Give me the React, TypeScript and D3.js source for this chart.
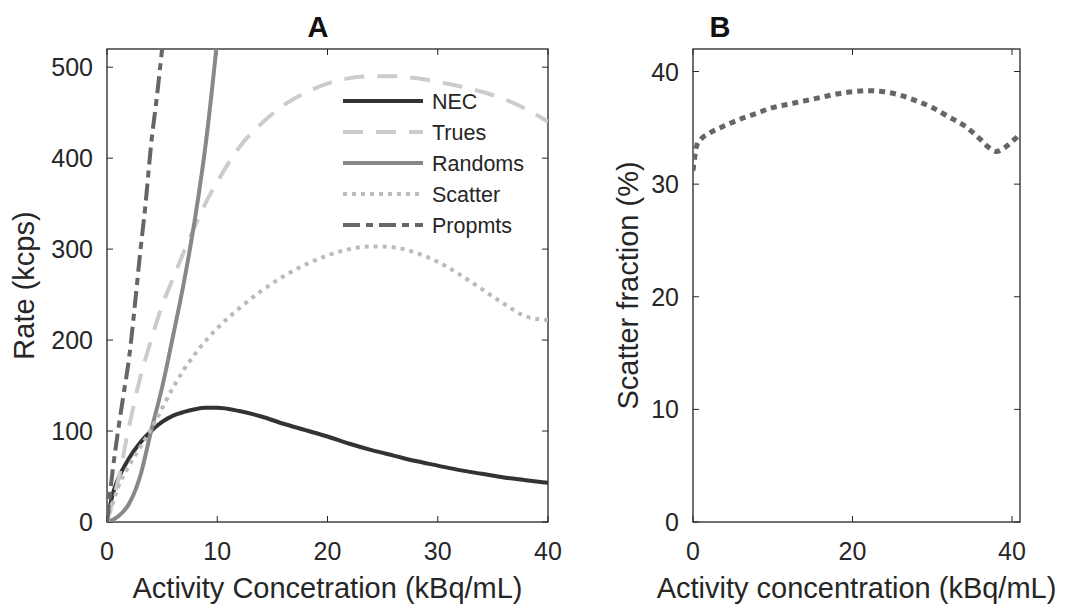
import React, { useRef, useEffect } from 'react';
import * as d3 from 'd3';

// Panel A: count rates (kcps) vs activity concentration (kBq/mL)
const concA = [0, 0.5, 1, 2, 3, 4, 5, 6, 7, 8, 9, 10, 12, 14, 16, 18, 20, 22, 24, 26, 28, 30, 32, 34, 36, 38, 40];
const necRate = [0, 30, 47, 70, 87, 100, 110, 117, 121, 124, 125.5, 125.5, 122, 116, 108, 101, 94, 86, 79, 73, 67, 62, 57, 53, 49, 46, 43];
const truesRate = [0, 22, 45, 105, 158, 200, 238, 268, 298, 326, 352, 374, 412, 438, 458, 472, 482, 488, 490, 490, 488, 484, 479, 473, 465, 454, 440];
const scatterRate = [0, 20, 38, 62, 82, 102, 125, 148, 168, 185, 200, 213, 235, 254, 270, 283, 293, 300, 303, 302, 296, 286, 272, 256, 240, 226, 222];
const concRandoms = [0, 1, 2, 3, 4, 5, 6, 7, 8, 9, 10];
const randomsRate = [0, 6, 20, 50, 100, 148, 205, 265, 335, 420, 530];
const concPrompts = [0, 0.5, 1, 1.5, 2, 2.5, 3, 3.5, 4, 4.5, 5, 5.5];
const promptsRate = [0, 55, 100, 140, 180, 235, 295, 350, 415, 465, 520, 575];

const seriesNames = ['NEC', 'Trues', 'Randoms', 'Scatter', 'Propmts'];
const ticksAX = [0, 10, 20, 30, 40];
const ticksAY = [0, 100, 200, 300, 400, 500];

// Panel B: scatter fraction (%)
const concB = [0, 0.5, 1, 2, 4, 6, 8, 10, 12, 14, 16, 18, 20, 22, 24, 26, 28, 30, 32, 34, 36, 37, 38, 39, 40, 41];
const scatterFraction = [31.2, 33.5, 34.0, 34.5, 35.2, 35.8, 36.3, 36.8, 37.1, 37.4, 37.7, 38.0, 38.2, 38.3, 38.2, 37.9, 37.4, 36.8, 36.0, 35.2, 34.0, 33.3, 32.9, 33.2, 33.8, 34.4];
const ticksBX = [0, 20, 40];
const ticksBY = [0, 10, 20, 30, 40];

const FONT = "'Liberation Sans', Arial, Helvetica, sans-serif";
const AXIS = '#262626';

const App = () => {
    const svgRef = useRef(null);

    useEffect(() => {
        const svg = d3.select(svgRef.current);
        svg.selectAll('*').remove();

        // draws box, inward ticks on all sides, tick labels
        const drawAxes = (x, y, xt, yt, id) => {
            const [x0, x1] = x.range();
            const [y0, y1] = y.range();
            const g = svg.append('g');
            g.append('rect')
                .attr('x', x0).attr('y', y1)
                .attr('width', x1 - x0).attr('height', y0 - y1)
                .attr('fill', 'none').attr('stroke', AXIS).attr('stroke-width', 1.3);
            const tl = 6;
            xt.forEach(t => {
                g.append('line').attr('x1', x(t)).attr('x2', x(t)).attr('y1', y0).attr('y2', y0 - tl).attr('stroke', AXIS);
                g.append('line').attr('x1', x(t)).attr('x2', x(t)).attr('y1', y1).attr('y2', y1 + tl).attr('stroke', AXIS);
                g.append('text').attr('x', x(t)).attr('y', y0 + 38)
                    .attr('text-anchor', 'middle').attr('font-size', 25).attr('fill', AXIS)
                    .attr('font-family', FONT).text(t);
            });
            yt.forEach(t => {
                g.append('line').attr('x1', x0).attr('x2', x0 + tl).attr('y1', y(t)).attr('y2', y(t)).attr('stroke', AXIS);
                g.append('line').attr('x1', x1).attr('x2', x1 - tl).attr('y1', y(t)).attr('y2', y(t)).attr('stroke', AXIS);
                g.append('text').attr('x', x0 - 14).attr('y', y(t)).attr('dy', '0.36em')
                    .attr('text-anchor', 'end').attr('font-size', 25).attr('fill', AXIS)
                    .attr('font-family', FONT).text(t);
            });
            svg.append('clipPath').attr('id', id)
                .append('rect').attr('x', x0).attr('y', y1).attr('width', x1 - x0).attr('height', y0 - y1);
        };

        const label = (txt, x, y, rotate, size = 29, weight = 'normal') => {
            svg.append('text')
                .attr('transform', `translate(${x},${y})${rotate ? ' rotate(-90)' : ''}`)
                .attr('text-anchor', 'middle').attr('font-size', size).attr('font-weight', weight)
                .attr('font-family', FONT).attr('fill', rotate || weight === 'normal' ? AXIS : '#111')
                .text(txt);
        };

        // ---------- Panel A ----------
        const xA = d3.scaleLinear().domain([0, 40]).range([107, 548]);
        const yA = d3.scaleLinear().domain([0, 520]).range([522, 49]);
        drawAxes(xA, yA, ticksAX, ticksAY, 'clipA');

        const lineA = d3.line().x(d => xA(d[0])).y(d => yA(d[1])).curve(d3.curveMonotoneX);
        const zipped = (xs, ys) => xs.map((v, i) => [v, ys[i]]);

        const styles = [
            { color: '#333333', dash: null, data: zipped(concA, necRate) },
            { color: '#cccccc', dash: '20 13', data: zipped(concA, truesRate) },
            { color: '#888888', dash: null, data: zipped(concRandoms, randomsRate) },
            { color: '#bbbbbb', dash: '4 5', data: zipped(concA, scatterRate) },
            { color: '#666666', dash: '17 6 7 6', data: zipped(concPrompts, promptsRate) },
        ];

        const plotA = svg.append('g').attr('clip-path', 'url(#clipA)');
        styles.forEach(s => {
            plotA.append('path')
                .datum(s.data)
                .attr('fill', 'none')
                .attr('stroke', s.color)
                .attr('stroke-width', 4)
                .attr('stroke-dasharray', s.dash)
                .attr('d', lineA);
        });

        // legend
        const legend = svg.append('g').attr('transform', 'translate(343, 101)');
        seriesNames.forEach((name, i) => {
            const row = legend.append('g').attr('transform', `translate(0, ${i * 31})`);
            row.append('line')
                .attr('x1', 0).attr('x2', 80).attr('y1', 0).attr('y2', 0)
                .attr('stroke', styles[i].color).attr('stroke-width', 4)
                .attr('stroke-dasharray', styles[i].dash);
            row.append('text')
                .attr('x', 89).attr('y', 0).attr('dy', '0.36em')
                .attr('font-size', 21.5).attr('font-family', FONT).attr('fill', AXIS)
                .text(name);
        });

        label('A', 318, 37, false, 29, 'bold');
        label('Rate (kcps)', 34, 285.5, true);
        label('Activity Concetration (kBq/mL)', 327.5, 598, false);

        // ---------- Panel B ----------
        const xB = d3.scaleLinear().domain([0, 41]).range([693, 1020]);
        const yB = d3.scaleLinear().domain([0, 42]).range([522, 49]);
        drawAxes(xB, yB, ticksBX, ticksBY, 'clipB');

        const lineB = d3.line().x(d => xB(d[0])).y(d => yB(d[1])).curve(d3.curveMonotoneX);
        svg.append('g').attr('clip-path', 'url(#clipB)')
            .append('path')
            .datum(zipped(concB, scatterFraction))
            .attr('fill', 'none')
            .attr('stroke', '#666666')
            .attr('stroke-width', 5)
            .attr('stroke-dasharray', '6 5')
            .attr('d', lineB);

        label('B', 720, 37, false, 29, 'bold');
        label('Scatter fraction (%)', 638, 285.5, true);
        label('Activity concentration (kBq/mL)', 856.5, 598, false);
    }, []);

    return (
        <svg
            ref={svgRef}
            width={1065}
            height={614}
            style={{ position: 'absolute', left: 0, top: 0, background: '#fff' }}
        />
    );
};

export default App;
